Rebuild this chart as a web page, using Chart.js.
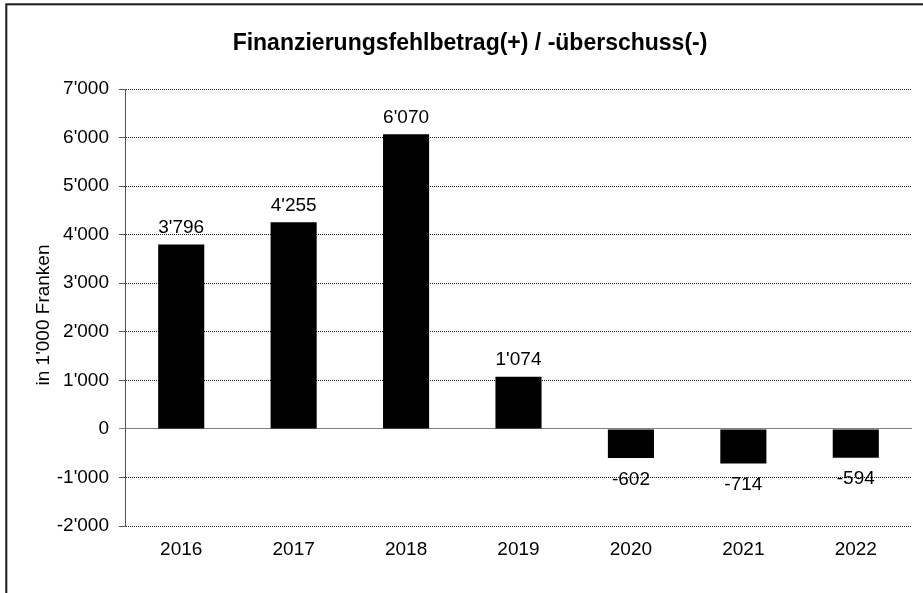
<!DOCTYPE html>
<html><head><meta charset="utf-8">
<script src="https://cdn.jsdelivr.net/npm/chart.js@4/dist/chart.umd.min.js"></script>
<style>html,body{margin:0;padding:0;background:#fff;} #wrap{position:relative;width:923px;height:593px;}</style>
</head><body><div id="wrap"><canvas id="c"></canvas></div>
<script>
const categories = ['2016','2017','2018','2019','2020','2021','2022'];
const values = [3796, 4255, 6070, 1074, -602, -714, -594];
const yTicks = [-2000, -1000, 0, 1000, 2000, 3000, 4000, 5000, 6000, 7000];
const chartTitle = 'Finanzierungsfehlbetrag(+) / -überschuss(-)';
const yAxisTitle = "in 1'000 Franken";

const FONT = "'Liberation Sans', Arial, sans-serif";
function fmt(v) {
  const s = Math.abs(Math.round(v)).toString().replace(/\B(?=(\d{3})+(?!\d))/g, "'");
  return (v < 0 ? '-' : '') + s;
}

const frame = {
  id: 'frame',
  afterDraw(chart) {
    const ctx = chart.ctx;
    ctx.save();
    ctx.strokeStyle = '#1a1a1a';
    ctx.lineWidth = 2;
    ctx.strokeRect(6.3, 4.3, 1200, 1200);
    ctx.restore();
  }
};

const titles = {
  id: 'titles',
  afterDraw(chart) {
    const ctx = chart.ctx;
    ctx.save();
    ctx.fillStyle = '#000';
    ctx.textAlign = 'center';
    ctx.textBaseline = 'middle';
    ctx.font = 'bold 23px ' + FONT;
    ctx.fillText(chartTitle, 470, 44);
    ctx.translate(44, 315);
    ctx.rotate(-Math.PI / 2);
    ctx.font = '19px ' + FONT;
    ctx.fillText(yAxisTitle, 0, 0);
    ctx.restore();
  }
};

const dataLabels = {
  id: 'dataLabels',
  afterDatasetsDraw(chart) {
    const ctx = chart.ctx;
    const meta = chart.getDatasetMeta(0);
    ctx.save();
    ctx.font = '19px ' + FONT;
    ctx.fillStyle = '#000';
    ctx.textAlign = 'center';
    ctx.textBaseline = 'alphabetic';
    meta.data.forEach((el, i) => {
      const v = values[i];
      const y = v >= 0 ? el.y - 11.5 : el.y + 26.5;
      ctx.fillText(fmt(v), el.x, y);
    });
    ctx.restore();
  }
};

new Chart(document.getElementById('c'), {
  type: 'bar',
  data: {
    labels: categories,
    datasets: [{
      data: values,
      backgroundColor: '#000',
      borderColor: '#000',
      borderWidth: 0,
      barPercentage: 0.41,
      categoryPercentage: 1.0
    }]
  },
  options: {
    responsive: true,
    maintainAspectRatio: false,
    animation: false,
    layout: { padding: { left: 0, right: 11, top: 89, bottom: 0 } },
    plugins: {
      legend: { display: false },
      tooltip: { enabled: false },
      title: { display: false }
    },
    scales: {
      x: {
        grid: { display: false, drawTicks: false },
        border: { display: false },
        ticks: { color: '#000', font: { family: FONT, size: 19 }, padding: 12 },
        afterFit(s) { s.height = 67; }
      },
      y: {
        min: -2000,
        max: 7000,
        afterBuildTicks(s) { s.ticks = yTicks.map(v => ({ value: v })); },
        afterFit(s) { s.width = 125; },
        ticks: {
          color: '#000',
          font: { family: FONT, size: 19 },
          padding: 10,
          callback: (v) => fmt(v)
        },
        grid: {
          color: (c) => (c.tick && c.tick.value === 0) ? '#808080' : '#222',
          lineWidth: 1,
          tickLength: 6,
          tickColor: (c) => (c.tick && c.tick.value === 0) ? '#808080' : '#555'
        },
        border: {
          display: true,
          color: '#555',
          width: 1,
          dash: (c) => (c.tick && c.tick.value === 0) ? [] : [1, 1]
        }
      }
    }
  },
  plugins: [frame, titles, dataLabels]
});
</script>
</body></html>
